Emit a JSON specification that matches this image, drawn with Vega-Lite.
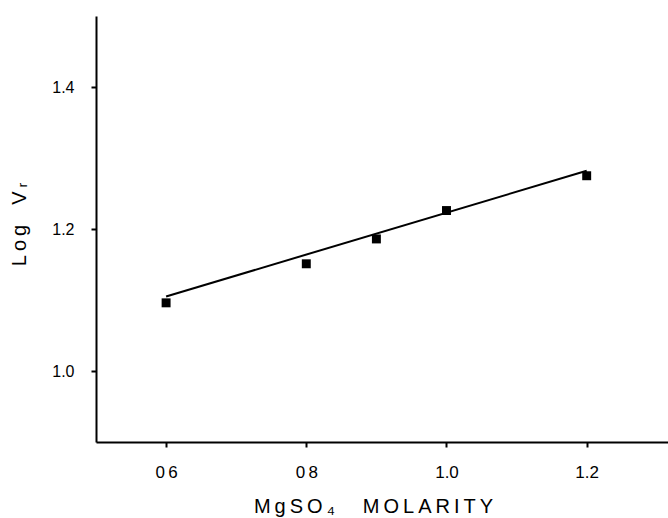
{
  "$schema": "https://vega.github.io/schema/vega-lite/v6.json",
  "autosize": "none",
  "width": 572,
  "height": 426,
  "padding": {"left": 96, "top": 16, "right": 0, "bottom": 76},
  "background": "white",
  "config": {
    "view": {"stroke": null},
    "font": "Liberation Sans",
    "axis": {
      "grid": false,
      "domainColor": "black",
      "domainWidth": 2,
      "tickColor": "black",
      "tickWidth": 2,
      "tickSize": 5,
      "labelColor": "black",
      "titleColor": "black",
      "labelFont": "Liberation Sans",
      "titleFont": "Liberation Sans",
      "titleFontWeight": "normal"
    }
  },
  "datasets": {
    "points": [
      {"molarity": 0.6, "logvr": 1.096},
      {"molarity": 0.8, "logvr": 1.151},
      {"molarity": 0.9, "logvr": 1.186},
      {"molarity": 1.0, "logvr": 1.226},
      {"molarity": 1.2, "logvr": 1.275}
    ],
    "fit": [
      {"molarity": 0.6, "logvr": 1.105},
      {"molarity": 1.2, "logvr": 1.282}
    ]
  },
  "layer": [
    {
      "data": {"name": "fit"},
      "mark": {"type": "line", "color": "black", "strokeWidth": 2},
      "encoding": {
        "x": {
          "field": "molarity", "type": "quantitative",
          "scale": {"domain": [0.5, 1.316], "nice": false, "zero": false},
          "axis": {
            "values": [0.6, 0.8, 1.0, 1.2],
            "labelExpr": "datum.value == 0.6 ? '0\u20096' : datum.value == 0.8 ? '0\u20098' : format(datum.value, '.1f')",
            "labelFontSize": 17,
            "labelPadding": 17,
            "title": "M\u2009g\u2009S\u2009O\u2009₄\u2003\u2009\u2009M\u2009O\u2009L\u2009A\u2009R\u2009I\u2009T\u2009Y",
            "titleFontSize": 20,
            "titlePadding": 16,
            "titleX": 277
          }
        },
        "y": {
          "field": "logvr", "type": "quantitative",
          "scale": {"domain": [0.9, 1.5], "nice": false, "zero": false},
          "axis": {
            "values": [1.0, 1.2, 1.4],
            "format": ".1f",
            "labelFontSize": 16,
            "labelPadding": 17,
            "title": "L\u2009o\u2009g\u2003V\u2009ᵣ",
            "titleFontSize": 20,
            "titlePadding": 22,
            "titleY": 208
          }
        }
      }
    },
    {
      "data": {"name": "points"},
      "mark": {"type": "square", "color": "black", "filled": true, "opacity": 1, "size": 80},
      "encoding": {
        "x": {"field": "molarity", "type": "quantitative"},
        "y": {"field": "logvr", "type": "quantitative"}
      }
    }
  ]
}
